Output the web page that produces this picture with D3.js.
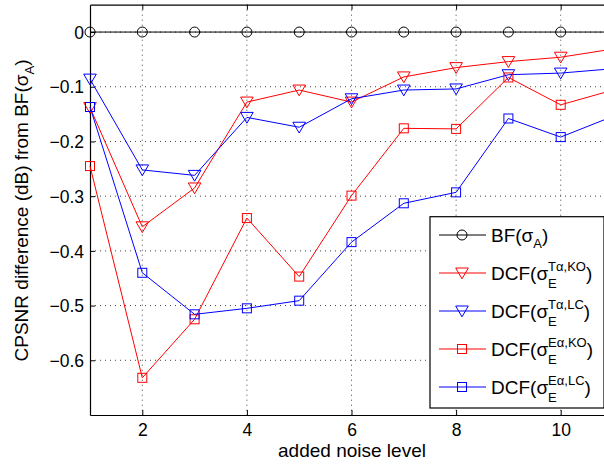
<!DOCTYPE html>
<html><head><meta charset="utf-8">
<script src="https://cdn.jsdelivr.net/npm/d3@7"></script>
<style>body{margin:0;background:#fff}svg{display:block}text{font-family:"Liberation Sans",Arial,sans-serif;fill:#000}</style>
</head><body>
<svg id="c" width="604" height="467"></svg>
<script>
const xs = [1,2,3,4,5,6,7,8,9,10,11];
const bfA = [0,0,0,0,0,0,0,0,0,0,0];
const dcfTKO = [-0.138,-0.356,-0.285,-0.128,-0.106,-0.128,-0.082,-0.065,-0.054,-0.046,-0.031];
const dcfTLC = [-0.086,-0.252,-0.262,-0.156,-0.174,-0.122,-0.106,-0.104,-0.078,-0.075,-0.067];
const dcfEKO = [-0.245,-0.632,-0.525,-0.340,-0.447,-0.299,-0.176,-0.177,-0.083,-0.133,-0.106];
const dcfELC = [-0.137,-0.440,-0.516,-0.505,-0.491,-0.384,-0.313,-0.293,-0.158,-0.192,-0.154];
const xTicks = [2,4,6,8,10];
const yTicks = [0,-0.1,-0.2,-0.3,-0.4,-0.5,-0.6];

const series = [
  {name:"BF", sup:null, sub:"A", data:bfA, color:"#000", marker:"circle"},
  {name:"DCF", sup:"Tα,KO", sub:"E", data:dcfTKO, color:"#ff0000", marker:"tri"},
  {name:"DCF", sup:"Tα,LC", sub:"E", data:dcfTLC, color:"#0000ff", marker:"tri"},
  {name:"DCF", sup:"Eα,KO", sub:"E", data:dcfEKO, color:"#ff0000", marker:"square"},
  {name:"DCF", sup:"Eα,LC", sub:"E", data:dcfELC, color:"#0000ff", marker:"square"}
];

const svg = d3.select("#c");
const L=90, T=4.7, R=613, B=415;
const x = d3.scaleLinear().domain([1,11]).range([L,R]);
const y = d3.scaleLinear().domain([-0.7,0.05]).range([B,T]);

// grid
const g = svg.append("g");
g.selectAll(".gx").data(xTicks).enter().append("line")
  .attr("x1",d=>x(d)).attr("x2",d=>x(d)).attr("y1",T).attr("y2",B)
  .attr("stroke","#444").attr("stroke-width",1).attr("stroke-dasharray","1,4");
g.selectAll(".gy").data(yTicks).enter().append("line")
  .attr("x1",L).attr("x2",R).attr("y1",d=>y(d)).attr("y2",d=>y(d))
  .attr("stroke","#444").attr("stroke-width",1).attr("stroke-dasharray","1,4");

// axes
const ax = svg.append("g");
const xAxis = d3.axisBottom(x).tickValues(xTicks).tickSizeInner(-5).tickSizeOuter(0).tickPadding(9).tickFormat(d3.format("d"));
const yAxis = d3.axisLeft(y).tickValues(yTicks).tickSizeInner(-5).tickSizeOuter(0).tickPadding(6).tickFormat(d=> d===0?"0":d3.format(".1f")(d).replace("-","−"));
const xa = ax.append("g").attr("transform",`translate(0,${B})`).call(xAxis);
const ya = ax.append("g").attr("transform",`translate(${L},0)`).call(yAxis);
const xt = ax.append("g").attr("transform",`translate(0,${T})`).call(d3.axisTop(x).tickValues(xTicks).tickSizeInner(-5).tickSizeOuter(0).tickFormat(""));
[xa,ya,xt].forEach(a=>{a.select(".domain").attr("stroke","#000").attr("stroke-width",1.2);
  a.selectAll(".tick line").attr("stroke","#000");
  a.selectAll("text").attr("font-size",17.5).attr("font-family","Liberation Sans, Arial, sans-serif").attr("fill","#000");});
ya.selectAll("text").attr("dy","0.35em");

function drawMarker(sel, type, color){
  if(type==="circle"){
    sel.append("circle").attr("r",5).attr("fill","none").attr("stroke",color).attr("stroke-width",1);
  } else if(type==="tri"){
    sel.append("path").attr("d","M-6.3,-5L6.3,-5L0,5.8Z").attr("fill","none").attr("stroke",color).attr("stroke-width",1);
  } else {
    sel.append("rect").attr("x",-4.5).attr("y",-4.5).attr("width",9).attr("height",9).attr("fill","none").attr("stroke",color).attr("stroke-width",1);
  }
}

const plot = svg.append("g");
const line = d3.line().x((d,i)=>x(xs[i])).y(d=>y(d));
series.forEach(s=>{
  const sg = plot.append("g");
  sg.append("path").attr("d",line(s.data)).attr("fill","none").attr("stroke",s.color).attr("stroke-width",1);
  s.data.forEach((v,i)=>{
    const m = sg.append("g").attr("transform",`translate(${x(xs[i])},${y(v)})`);
    drawMarker(m, s.marker, s.color);
  });
});

// legend
const lg = svg.append("g");
const lx=430, ly=216.7, lw=174, lh=191.3;
lg.append("rect").attr("x",lx).attr("y",ly).attr("width",lw).attr("height",lh).attr("fill","#fff").attr("stroke","#000").attr("stroke-width",1.2);
const rowY = [235,273,311,349,387];
function richLabel(parent, x0, y0, name, sup, sub, fs, subFs){
  const t1 = parent.append("text").attr("x",x0).attr("y",y0).attr("font-size",fs).text(name+"(σ");
  const w1 = t1.node().getComputedTextLength();
  let w2 = 0;
  if(sup){
    const ts = parent.append("text").attr("x",x0+w1).attr("y",y0-9).attr("font-size",subFs).text(sup);
    w2 = Math.max(w2, ts.node().getComputedTextLength());
  }
  const tb = parent.append("text").attr("x",x0+w1).attr("y",y0+(sup?8:6)).attr("font-size",subFs).text(sub);
  w2 = Math.max(w2, tb.node().getComputedTextLength());
  parent.append("text").attr("x",x0+w1+w2).attr("y",y0).attr("font-size",fs).text(")");
}
series.forEach((s,i)=>{
  const yy = rowY[i];
  lg.append("line").attr("x1",439).attr("x2",486).attr("y1",yy).attr("y2",yy).attr("stroke",s.color).attr("stroke-width",1);
  const m = lg.append("g").attr("transform",`translate(462,${yy})`);
  drawMarker(m, s.marker, s.color);
  richLabel(lg, 491, yy+6.5, s.name, s.sup, s.sub, 19, 13);
});

// axis labels
svg.append("text").attr("x",352).attr("y",457).attr("text-anchor","middle").attr("font-size",19).text("added noise level");
const yl = svg.append("g").attr("transform","translate(28,210.5) rotate(-90)");
const tmp = yl.append("g");
richLabel(tmp, 0, 0, "CPSNR difference (dB) from BF", null, "A", 19, 13);
const bb = tmp.node().getBBox();
tmp.attr("transform",`translate(${-bb.width/2},0)`);
</script>
</body></html>
